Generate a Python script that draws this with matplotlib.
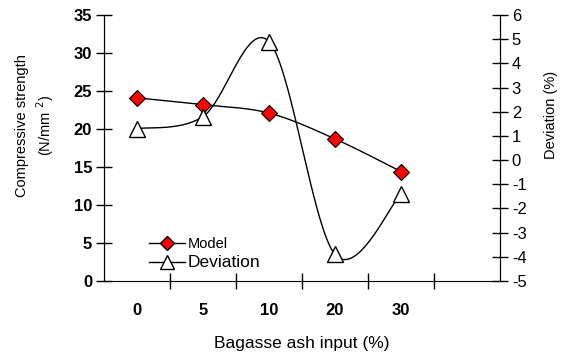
import numpy as np
import matplotlib
matplotlib.use("Agg")
import matplotlib.pyplot as plt
from matplotlib.lines import Line2D

plt.rcParams['font.family'] = ['Liberation Sans', 'DejaVu Sans']
plt.rcParams['axes.unicode_minus'] = False

categories = ['0', '5', '10', '20', '30']
model = [24.1, 23.2, 22.1, 18.7, 14.4]          # N/mm2, left axis
deviation = [1.3, 1.8, 4.9, -3.9, -1.4]         # %, right axis


def smooth(xs, ys, n=40):
    # Excel style smoothed line: bezier through points, tangents from neighbours
    p = np.column_stack([xs, ys]).astype(float)
    ext = np.vstack([p[0], p, p[-1]])
    out = [p[:1]]
    t = np.linspace(0, 1, n)[1:, None]
    for i in range(len(p) - 1):
        p0, p3 = p[i], p[i + 1]
        c1 = p0 + (ext[i + 2] - ext[i]) / 6
        c2 = p3 - (ext[i + 3] - ext[i + 1]) / 6
        seg = ((1 - t) ** 3 * p0 + 3 * (1 - t) ** 2 * t * c1
               + 3 * (1 - t) * t ** 2 * c2 + t ** 3 * p3)
        out.append(seg)
    q = np.vstack(out)
    return q[:, 0], q[:, 1]


x = np.arange(len(categories))

fig = plt.figure(figsize=(5.65, 3.58), dpi=100)
ax = fig.add_axes([104 / 565, 1 - 281 / 358, 396 / 565, 266 / 358])
ax2 = ax.twinx()

mx, my = smooth(x, model)
ax.plot(mx, my, color='black', lw=1)
ax.plot(x, model, ls='none', marker='D', ms=8, mfc='red', mec='black', mew=0.8)

dx, dy = smooth(x, deviation)
ax2.plot(dx, dy, color='black', lw=1)
ax2.plot(x, deviation, ls='none', marker='^', ms=11, mfc='white', mec='black', mew=1)

ax.set_xlim(-0.5, 5.5)
ax.set_ylim(0, 35)
ax2.set_ylim(-5, 6)

ax.set_yticks(np.arange(0, 36, 5))
ax2.set_yticks(np.arange(-5, 7, 1))
ax.set_xticks(x)
ax.set_xticklabels(categories, fontweight='bold', fontsize=12)
ax.set_xticks(np.arange(0.5, 5.5, 1), minor=True)
ax.tick_params(axis='x', which='major', length=0, pad=16)
ax.tick_params(axis='x', which='minor', direction='inout', length=11, width=1)
ax.tick_params(axis='y', direction='inout', length=11, width=1, labelsize=12, pad=3)
for lab in ax.get_yticklabels():
    lab.set_fontweight('bold')
ax2.tick_params(axis='y', direction='inout', length=11, width=1, labelsize=12, pad=3)

for a in (ax, ax2):
    a.spines['top'].set_visible(False)
ax2.spines['bottom'].set_visible(False)

ax.set_xlabel('Bagasse ash input (%)', fontsize=12.5, labelpad=13)
ax.set_ylabel('Compressive strength\n(N/mm $^{2}$)', fontsize=10.5,
              linespacing=1.35)
ax.yaxis.set_label_coords(-0.121, 0.583)
ax2.set_ylabel('Deviation (%)', fontsize=10.5)
ax2.yaxis.set_label_coords(1.11, 0.624)

h1 = Line2D([], [], color='black', lw=1, marker='D', ms=7, mfc='red', mec='black')
h2 = Line2D([], [], color='black', lw=1, marker='^', ms=10, mfc='white', mec='black')
leg = ax2.legend([h1, h2], ['Model', 'Deviation'], loc='lower left',
                 bbox_to_anchor=(0.1, 0.02), frameon=False, handlelength=2.6,
                 handletextpad=0.2, borderaxespad=0, labelspacing=0.3)
leg.get_texts()[0].set_fontsize(10.5)
leg.get_texts()[1].set_fontsize(12.5)

fig.savefig('out.png', dpi=100)
